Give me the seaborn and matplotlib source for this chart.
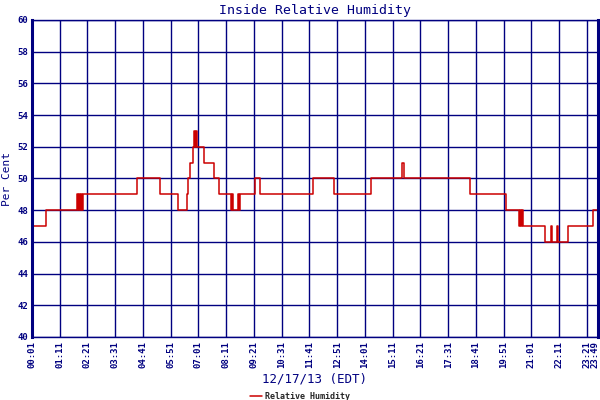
import matplotlib
matplotlib.use("Agg")
import matplotlib.pyplot as plt
import matplotlib.transforms as mtransforms
import seaborn as sns
import pandas as pd

# minutes after 00:01 where the reading changes, and the reading from there on
minutes = [0, 35, 114, 116, 119, 121, 124, 126, 129, 265, 323, 368, 391, 394,
           399, 401, 406, 409, 411, 414, 416, 434, 459, 472, 502, 505, 507,
           520, 522, 525, 563, 575, 709, 762, 855, 934, 939, 1105, 1196,
           1229, 1231, 1234, 1236, 1239, 1294, 1309, 1312, 1325, 1327,
           1352, 1415, 1428]
humidity = [47, 48, 49, 48, 49, 48, 49, 48, 49, 50, 49, 48, 49, 50,
            51, 51, 52, 53, 52, 53, 52, 51, 50, 49, 48, 49, 48,
            49, 48, 49, 50, 49, 50, 49, 50, 51, 50, 49, 48,
            47, 48, 47, 48, 47, 46, 47, 46, 47, 46,
            47, 48, 48]

tick_pos = [0, 70, 140, 210, 280, 350, 420, 490, 560, 630, 700, 770, 840,
            910, 980, 1050, 1120, 1190, 1260, 1330, 1400, 1428]
tick_labels = ["00:01", "01:11", "02:21", "03:31", "04:41", "05:51", "07:01",
               "08:11", "09:21", "10:31", "11:41", "12:51", "14:01", "15:11",
               "16:21", "17:31", "18:41", "19:51", "21:01", "22:11", "23:21",
               "23:49"]

df = pd.DataFrame({"minute": minutes, "rh": humidity})

navy = "#000080"
sns.set_style("white")
plt.rcParams["font.family"] = ["DejaVu Sans Mono", "DejaVu Sans"]

fig = plt.figure(figsize=(6, 4), dpi=100)
ax = fig.add_axes([32 / 600, 1 - 337 / 400, 566 / 600, 317 / 400])

sns.lineplot(data=df, x="minute", y="rh", ax=ax, color="#cc0000",
             linewidth=1.1, drawstyle="steps-post", label="Relative Humidity",
             legend=False)

ax.set_xlim(0, 1428)
ax.set_ylim(40, 60)
ax.set_yticks(range(40, 61, 2))
ax.set_xticks(tick_pos)
ax.set_xticklabels(tick_labels, rotation=90)
ax.grid(True, color=navy, linewidth=1.0)
ax.set_axisbelow(True)
ax.tick_params(length=0, labelsize=6.5, labelcolor=navy, pad=3)
for lab in ax.get_xticklabels() + ax.get_yticklabels():
    lab.set_fontweight("bold")

# last label sits just inside the right edge, as in the original
last = ax.get_xticklabels()[-1]
last.set_transform(last.get_transform() +
                   mtransforms.ScaledTranslation(-3 / 100, 0, fig.dpi_scale_trans))

for side in ["top", "bottom"]:
    ax.spines[side].set_color(navy)
    ax.spines[side].set_linewidth(1.0)
for side in ["left", "right"]:
    ax.spines[side].set_color(navy)
    ax.spines[side].set_linewidth(2.2)

ax.set_title("Inside Relative Humidity", color=navy, fontsize=9.5, pad=4)
ax.set_xlabel("12/17/13 (EDT)", color=navy, fontsize=9, labelpad=3)
ax.set_ylabel("Per Cent", color=navy, fontsize=8, labelpad=4)

fig.legend(loc="lower center", bbox_to_anchor=(0.5, -0.022), frameon=False,
           handlelength=1.4, handletextpad=0.3,
           prop={"weight": "bold", "size": 6})

fig.savefig("out.png", dpi=100, facecolor="white")
